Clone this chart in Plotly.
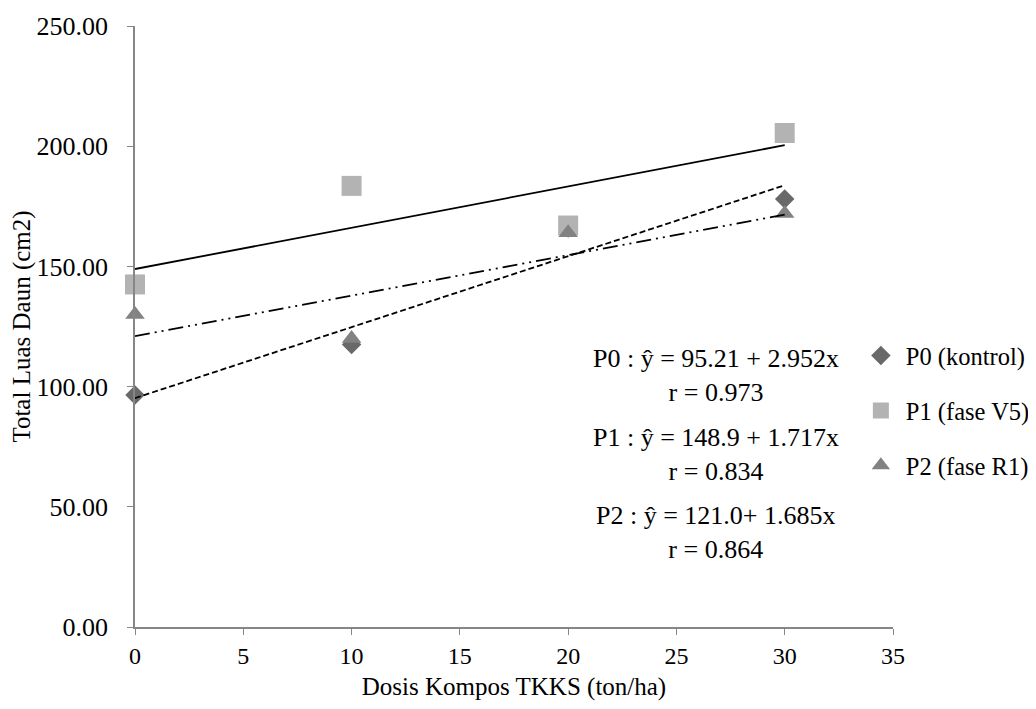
import plotly.graph_objects as go

dose = [0, 10, 20, 30]
p0_vals = [96.5, 117.5, 166.0, 178.0]
p1_vals = [142.5, 183.5, 167.0, 205.5]
p2_vals = [130.0, 120.0, 164.0, 172.0]

series_names = ["P0 (kontrol)", "P1 (fase V5)", "P2 (fase R1)"]
intercepts = [95.21, 148.9, 121.0]
slopes = [2.952, 1.717, 1.685]
r_vals = ["0.973", "0.834", "0.864"]
eq_labels = ["P0 : ŷ = 95.21 + 2.952x", "P1 : ŷ = 148.9 + 1.717x", "P2 : ŷ = 121.0+ 1.685x"]
ann_x = 26.83
ann_y = [104.6, 71.7, 39.2]

y_ticks = [0, 50, 100, 150, 200, 250]
x_ticks = [0, 5, 10, 15, 20, 25, 30, 35]

FONT = "Liberation Serif"
AXIS_COLOR = "#868686"

colors = ["#696969", "#b3b3b3", "#828282"]
symbols = ["diamond", "square", "triangle-up"]
sizes = [15, 20, 17]
dashes = ["6px,3px", "solid", "15px,5px,2px,5px,2px,5px"]

fig = go.Figure()

for i, vals in enumerate([p0_vals, p1_vals, p2_vals]):
    fig.add_trace(go.Scatter(
        x=dose, y=vals, mode="markers", name=series_names[i],
        legendgroup=f"g{i}", cliponaxis=False,
        marker=dict(symbol=symbols[i], size=sizes[i], color=colors[i])))

fit_x = [0, 30]
for i in range(3):
    fig.add_trace(go.Scatter(
        x=fit_x, y=[intercepts[i] + slopes[i] * xv for xv in fit_x],
        mode="lines", line=dict(color="black", width=1.8, dash=dashes[i]),
        showlegend=False, hoverinfo="skip", cliponaxis=False))

for i in range(3):
    fig.add_annotation(
        x=ann_x, y=ann_y[i], xref="x", yref="y",
        text=f"{eq_labels[i]}<br>r = {r_vals[i]}",
        showarrow=False, align="center",
        font=dict(family=FONT, size=26, color="#000000"))

fig.update_layout(
    width=1020, height=693,
    margin=dict(l=127, r=135, t=18, b=74, autoexpand=False),
    plot_bgcolor="white", paper_bgcolor="white",
    font=dict(family=FONT, size=20, color="#000000"),
    legend=dict(x=0.951, y=0.489, xanchor="left", yanchor="top",
                font=dict(family=FONT, size=24.5, color="#000000"),
                itemwidth=40, tracegroupgap=20, bgcolor="rgba(0,0,0,0)"),
    xaxis=dict(range=[0, 35], tickvals=x_ticks, ticktext=[str(v) for v in x_ticks],
               automargin=False,
               showgrid=False, zeroline=False, showline=True, linecolor=AXIS_COLOR,
               linewidth=1.5, ticks="outside", tickcolor=AXIS_COLOR, ticklen=6,
               tickfont=dict(family=FONT, size=24, color="#000000"),
               title=dict(text="Dosis Kompos TKKS (ton/ha)",
                          font=dict(family=FONT, size=25, color="#000000"), standoff=17)),
    yaxis=dict(range=[0, 250], tickvals=y_ticks, ticktext=[f"{v:.2f}" for v in y_ticks],
               automargin=False,
               showgrid=False, zeroline=False, showline=True, linecolor=AXIS_COLOR,
               linewidth=1.5, ticks="outside", tickcolor=AXIS_COLOR, ticklen=6,
               ticklabelstandoff=14,
               tickfont=dict(family=FONT, size=26, color="#000000"),
               title=dict(text="Total Luas Daun (cm2)",
                          font=dict(family=FONT, size=25, color="#000000"), standoff=5)),
)

fig.write_html("out.html")
